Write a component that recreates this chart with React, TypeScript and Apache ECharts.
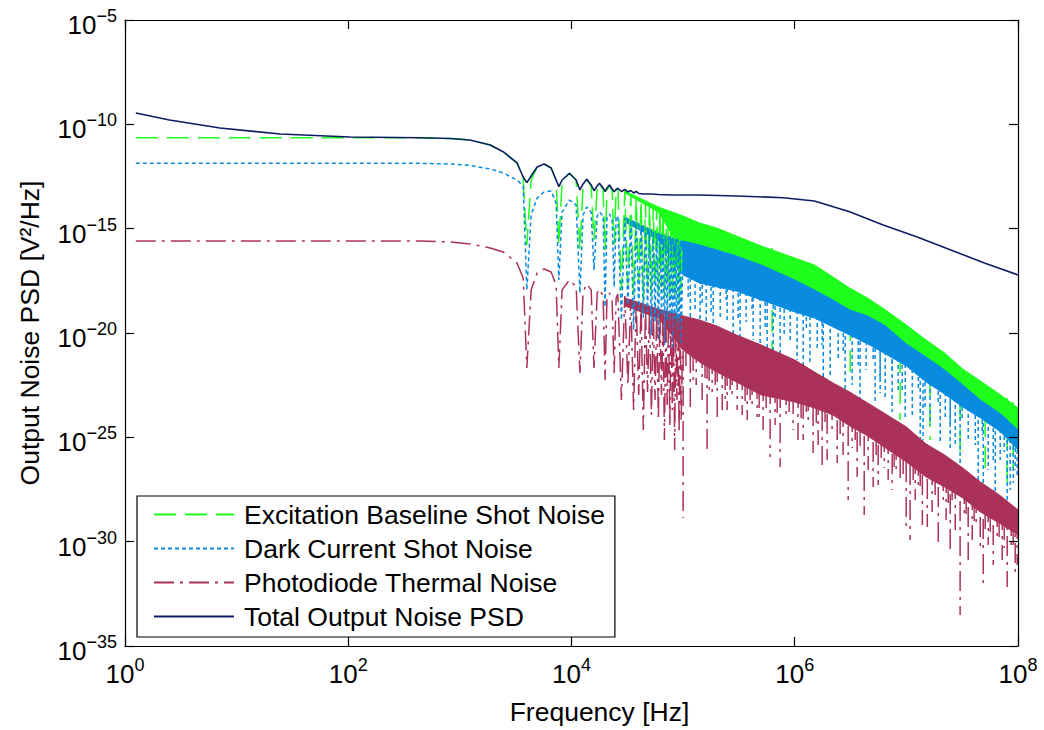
import React, { useEffect, useRef } from "react";
import * as echarts from "echarts";

// ---------- axis ticks ----------
const X_TICKS = [1, 1e2, 1e4, 1e6, 1e8];
const Y_TICKS = [1e-35, 1e-30, 1e-25, 1e-20, 1e-15, 1e-10, 1e-5];

// ---------- names ----------
const NAME_EXC = "Excitation Baseline Shot Noise";
const NAME_DARK = "Dark Current Shot Noise";
const NAME_THERM = "Photodiode Thermal Noise";
const NAME_TOTAL = "Total Output Noise PSD";

// ---------- low-frequency part (flat + distinct lobes), shared frequencies [Hz] ----------
const F_LOBE = [
  1.25, 2.5, 7.1, 24.5, 104, 440, 817, 1230, 1870, 2440, 3250, 3690, 3980, 4350, 4920, 5680, 6570, 7280, 7700,
  8240, 9580, 11000, 11900, 12700, 13700, 15000, 15900, 17000, 17800, 19200, 20000, 20800, 21900, 23100, 24100,
  25100, 26000, 28000, 30000, 32000, 34000, 36000, 38000, 40000, 42000, 44000, 46000, 48000, 50000, 52000, 54000,
  56000, 58000, 60000, 62000, 64000, 66000, 68000, 70000, 72000, 74000, 76000, 78000, 80000, 82000, 84000, 86000,
  88000, 90000, 92000, 94000, 96000, 100000,
];
const GREEN_LOBE = [
  2.29e-11, 2.29e-11, 2.29e-11, 2.29e-11, 2.29e-11, 2.27e-11, 2.1e-11, 1.78e-11, 1.02e-11, 4.89e-12, 1.41e-12,
  2.69e-13, 1.66e-16, 2.15e-13, 9.04e-13, 1.26e-12, 8.09e-13, 2.15e-13, 1.66e-16, 1.73e-13, 4.51e-13, 2.15e-13,
  9.53e-17, 1.24e-13, 2.33e-13, 1.11e-13, 2.87e-16, 8.91e-14, 1.5e-13, 7.15e-14, 9.53e-17, 7.15e-14, 1.24e-13,
  6.4e-14, 1.66e-16, 7.15e-14, 8.63e-14, 1.16e-18, 5.73e-14, 2.0e-18, 4.12e-14, 6.65e-19, 2.96e-14, 3.48e-18,
  2.12e-14, 3.84e-19, 1.7e-14, 1.44e-18, 1.37e-14, 5.96e-19, 1.22e-14, 2.5e-18, 9.82e-15, 9.27e-19, 8.79e-15,
  1.61e-18, 7.87e-15, 4.78e-19, 7.05e-15, 2.24e-18, 6.31e-15, 3.84e-19, 5.65e-15, 1.16e-18, 5.65e-15, 6.65e-19,
  5.06e-15, 1.79e-18, 4.53e-15, 3.84e-19, 4.06e-15, 1.16e-18, 3.64e-15,
];
const BLUE_LOBE = [
  1.36e-12, 1.36e-12, 1.36e-12, 1.36e-12, 1.36e-12, 1.35e-12, 1.26e-12, 1.07e-12, 7.25e-13, 4.67e-13, 2.15e-13,
  1.11e-13, 1.16e-18, 4.53e-15, 2.96e-14, 5.73e-14, 6.4e-14, 1.7e-14, 3.48e-18, 6.31e-15, 2.37e-14, 1.37e-14,
  8.3e-19, 4.53e-15, 1.1e-14, 6.31e-15, 1.05e-17, 4.06e-15, 6.31e-15, 4.06e-15, 1.77e-19, 3.26e-15, 5.06e-15,
  2.92e-15, 1.61e-18, 3.26e-15, 4.06e-15, 4.22e-20, 3.26e-15, 2.21e-19, 2.61e-15, 1.4e-20, 1.87e-15, 1.27e-19,
  1.35e-15, 5.26e-20, 1.08e-15, 1.02e-19, 8.66e-16, 8.07e-21, 7.76e-16, 3.39e-20, 6.22e-16, 4.65e-21, 5.57e-16,
  6.56e-20, 4.99e-16, 2.67e-21, 4.47e-16, 4.22e-20, 4.0e-16, 1.4e-20, 3.58e-16, 1.54e-21, 3.58e-16, 2.43e-20,
  3.21e-16, 4.65e-21, 2.87e-16, 1.4e-20, 2.57e-16, 2.67e-21, 2.31e-16,
];
const RED_LOBE = [
  2.57e-16, 2.57e-16, 2.57e-16, 2.57e-16, 2.57e-16, 2.57e-16, 2.31e-16, 1.85e-16, 1.19e-16, 7.65e-17, 2.27e-17,
  4.34e-18, 2.11e-22, 1.16e-18, 7.53e-18, 1.17e-17, 8.41e-18, 2.0e-18, 2.11e-22, 1.16e-18, 3.48e-18, 1.61e-18,
  1.22e-22, 9.27e-19, 2.24e-18, 1.16e-18, 2.11e-22, 8.3e-19, 1.29e-18, 5.96e-19, 5.62e-23, 5.33e-19, 8.3e-19,
  3.84e-19, 1.22e-22, 4.78e-19, 7.43e-19, 6.19e-24, 5.96e-19, 3.24e-23, 4.28e-19, 2.06e-24, 3.07e-19, 1.08e-23,
  2.21e-19, 2.26e-25, 1.77e-19, 1.5e-23, 1.42e-19, 1.18e-24, 1.27e-19, 6.19e-24, 1.02e-19, 6.82e-25, 9.14e-20,
  1.08e-23, 8.18e-20, 7.5e-26, 7.33e-20, 3.57e-24, 6.56e-20, 3.93e-25, 5.87e-20, 2.06e-24, 5.87e-20, 2.49e-26,
  5.26e-20, 6.19e-24, 4.71e-20, 1.63e-25, 4.22e-20, 6.82e-25, 3.78e-20,
];

// ---------- total output noise ----------
const F_TOTAL = [
  1.25, 2.5, 7.1, 24.5, 104, 440, 817, 1230, 1870, 2440, 3250, 3690, 3980, 4350, 4920, 5680, 6570, 7280, 7700,
  8240, 9580, 11000, 11900, 12700, 13700, 15000, 15900, 17000, 17800, 19200, 20000, 20800, 21900, 23100, 24100,
  25100, 26000, 28000, 30000, 32000, 34000, 36000, 38000, 40000, 44000, 48000, 52000, 60000, 80000, 1.4e5, 3e5,
  7.9e5, 1.5e6, 3.1e6, 6.2e6, 1.25e7, 2.5e7, 5e7, 1e8,
];
const TOTAL = [
  3.5e-10, 1.61e-10, 6.68e-11, 3.45e-11, 2.48e-11, 2.29e-11, 2.1e-11, 1.78e-11, 1.02e-11, 4.89e-12, 1.41e-12,
  3.0e-13, 1.6e-13, 3.35e-13, 9.04e-13, 1.26e-12, 8.09e-13, 2.15e-13, 1.03e-13, 2.15e-13, 4.51e-13, 2.15e-13,
  7.15e-14, 1.39e-13, 2.33e-13, 1.24e-13, 6.62e-14, 1.11e-13, 1.5e-13, 8.91e-14, 5.93e-14, 8.91e-14, 1.24e-13,
  7.98e-14, 5.93e-14, 7.55e-14, 8.63e-14, 6.05e-14, 7.55e-14, 5.73e-14, 6.76e-14, 5.14e-14, 6.05e-14, 4.86e-14,
  4.6e-14, 4.6e-14, 4.6e-14, 4.35e-14, 4.12e-14, 4.12e-14, 3.69e-14, 3.05e-14, 2.12e-14, 6.53e-15, 1.5e-15,
  4.0e-16, 9.53e-17, 2.27e-17, 6.04e-18,
];

// ---------- dense high-frequency region: envelope of the solid bands ----------
const F_BAND = [
  3e4, 6e4, 1e5, 1.4e5, 2e5, 3e5, 5e5, 1e6, 1.5e6, 2.2e6, 3.1e6, 4.5e6, 6.5e6, 1e7, 1.5e7, 2.2e7, 3.2e7, 4.6e7, 7e7,
  1e8,
];
const GREEN_BAND_TOP = [
  6.4e-14, 1.1e-14, 4.06e-15, 1.87e-15, 1.08e-15, 4.47e-16, 1.48e-16, 3.94e-17, 1.82e-17, 4.85e-18, 1.44e-18,
  4.78e-19, 1.27e-19, 2.43e-20, 4.65e-21, 1.11e-21, 1.89e-22, 5.04e-23, 1.08e-23, 2.56e-24,
];
const GREEN_BAND_BOTTOM = [
  5.14e-14, 6.31e-15, 6.85e-17, 4.41e-17, 2.54e-17, 1.31e-17, 4.85e-18, 9.27e-19, 3.07e-19, 1.02e-19, 3.39e-20,
  1.75e-20, 5.8e-21, 7.94e-22, 1.89e-22, 4.51e-23, 8.63e-24, 1.65e-24, 3.52e-25, 6.03e-26,
];
const BLUE_BAND_TOP = [
  3.64e-15, 6.22e-16, 2.57e-16, 1.66e-16, 9.53e-17, 4.92e-17, 1.82e-17, 3.48e-18, 1.16e-18, 3.84e-19, 1.27e-19,
  6.56e-20, 2.18e-20, 2.99e-21, 7.12e-22, 1.7e-22, 3.24e-23, 6.19e-24, 1.32e-24, 2.26e-25,
];
const BLUE_BAND_BOTTOM = [
  2.09e-15, 2.87e-16, 6.04e-18, 2.5e-18, 1.61e-18, 1.03e-18, 3.84e-19, 1.02e-19, 5.26e-20, 1.95e-20, 8.07e-21,
  2.99e-21, 9.91e-22, 2.64e-22, 4.51e-23, 1.2e-23, 2.86e-24, 8.51e-25, 1.82e-25, 2.49e-26,
];
const RED_BAND_TOP = [
  4.78e-19, 1.42e-19, 6.56e-20, 4.22e-20, 2.18e-20, 8.07e-21, 2.67e-21, 5.11e-22, 1.36e-22, 4.04e-23, 1.5e-23,
  4.45e-24, 1.32e-24, 3.15e-25, 4.83e-26, 1.44e-26, 3.42e-27, 7.3e-28, 1.56e-28, 3.32e-29,
];
const RED_BAND_BOTTOM = [
  1.98e-19, 5.26e-20, 1.54e-21, 4.1e-22, 1.36e-22, 4.51e-23, 1.08e-23, 4.97e-24, 2.56e-24, 1.18e-24, 3.52e-25,
  1.17e-25, 3.1e-26, 6.62e-27, 1.27e-27, 4.2e-28, 1.25e-28, 2.66e-29, 7.08e-30, 2.11e-30,
];

// ---------- deep notches (spikes) below the bands: frequency, upper end, lower end ----------
const GREEN_SPIKE_F = [6.27e5, 3.14e6, 8.8e6, 1.63e7, 3.03e7, 5.08e7, 8.0e7, 9.06e7];
const GREEN_SPIKE_TOP = [1.19e-16, 1.44e-18, 4.22e-20, 3.34e-21, 2.36e-22, 3.62e-23, 7.73e-24, 4.97e-24];
const GREEN_SPIKE_BOTTOM = [8.87e-22, 5.62e-23, 6.82e-25, 7.5e-26, 8.26e-27, 2.74e-27, 3.02e-28, 2.74e-27];

const BLUE_SPIKE_F = [
  1.16e5, 1.42e5, 1.86e5, 2.48e5, 3.24e5, 4.24e5, 5.66e5, 6.41e5, 7.4e5, 1.19e6, 1.37e6, 1.8e6, 2.83e6, 3.85e6,
  5.25e6, 5.82e6, 7.46e6, 9.76e6, 1.33e7, 1.41e7, 2.01e7, 2.47e7, 3.03e7, 4.4e7, 4.88e7, 6.25e7, 8.0e7, 9.06e7, 9.83e7,
  1.28e5, 1.61e5, 2.15e5, 2.81e5, 3.67e5, 4.9e5, 9.1e5, 1.05e6, 1.59e6, 2.08e6, 2.45e6, 3.27e6, 4.36e6, 6.46e6,
  8.44e6, 1.13e7, 1.63e7, 2.23e7, 2.74e7, 3.58e7, 5.41e7, 6.93e7, 8.51e7,
  1.11e5, 1.48e5, 1.78e5, 2.43e5, 3.11e5, 4.15e5, 5.43e5, 6.67e5, 8.04e5, 1.27e6, 1.76e6, 2.72e6, 3.7e6, 5.04e6,
  5.82e6, 7.46e6, 9.17e6, 1.28e7, 1.47e7, 1.93e7, 2.47e7, 3.16e7, 4.14e7, 4.78e7, 6.0e7, 7.52e7, 9.44e7,
];
const BLUE_SPIKE_TOP = [
  2.06e-16, 1.66e-16, 1.06e-16, 6.85e-17, 4.41e-17, 2.54e-17, 1.46e-17, 1.05e-17, 7.53e-18, 2.0e-18, 1.44e-18,
  5.96e-19, 1.58e-19, 9.14e-20, 4.22e-20, 3.39e-20, 1.12e-20, 3.34e-21, 1.11e-21, 8.87e-22, 2.36e-22, 1.09e-22,
  4.51e-23, 6.92e-24, 4.97e-24, 2.06e-24, 7.62e-25, 3.93e-25, 2.53e-25,
  1.05e-17, 6.04e-18, 4.34e-18, 3.12e-18, 2.0e-18, 1.16e-18, 3.44e-19, 2.75e-19, 1.42e-19, 7.33e-20, 4.71e-20,
  1.95e-20, 9.0e-21, 2.99e-21, 1.38e-21, 4.1e-22, 9.77e-23, 3.24e-23, 1.67e-23, 6.19e-24, 1.48e-24, 5.47e-25, 1.82e-25,
  8.41e-18, 4.34e-18, 3.48e-18, 2.5e-18, 1.79e-18, 1.03e-18, 6.65e-19, 4.28e-19, 3.07e-19, 1.27e-19, 7.33e-20,
  2.18e-20, 9.0e-21, 4.16e-21, 2.39e-21, 1.24e-21, 6.37e-22, 1.7e-22, 9.77e-23, 3.62e-23, 1.5e-23, 6.19e-24,
  2.56e-24, 1.48e-24, 6.11e-25, 2.53e-25, 6.72e-26,
];
const BLUE_SPIKE_BOTTOM = [
  1.4e-20, 1.4e-20, 6.47e-21, 3.03e-20, 3.34e-21, 4.65e-21, 1.54e-21, 7.12e-22, 1.11e-21, 1.7e-22, 3.67e-22,
  5.62e-23, 1.34e-23, 2.86e-24, 4.45e-24, 1.34e-23, 1.65e-24, 6.82e-25, 7.5e-26, 7.5e-26, 5.39e-26, 2.49e-26,
  2.74e-27, 9.1e-28, 6.53e-28, 2.17e-28, 7.19e-29, 6.53e-28, 1.27e-27,
  1.27e-19, 2.43e-20, 5.26e-20, 8.07e-21, 3.39e-20, 2.67e-21, 4.65e-21, 5.11e-22, 1.54e-21, 9.77e-23, 5.11e-22,
  3.24e-23, 1.7e-22, 6.19e-24, 1.87e-23, 1.18e-24, 3.93e-25, 6.82e-25, 4.32e-26, 7.5e-26, 2.74e-27, 8.26e-27, 3.02e-28,
  3.84e-19, 2.21e-19, 7.33e-20, 3.84e-19, 4.22e-20, 1.27e-19, 1.4e-20, 5.26e-20, 8.07e-21, 1.4e-20, 2.67e-21,
  1.24e-21, 2.95e-22, 4.1e-22, 5.62e-23, 1.36e-22, 1.5e-23, 1.87e-23, 2.06e-24, 3.57e-24, 3.93e-25, 6.82e-25,
  4.32e-26, 1.3e-25, 8.26e-27, 2.0e-26, 2.74e-27,
];

const RED_SPIKE_F = [
  1.0e5, 1.16e5, 1.64e5, 2.02e5, 2.48e5, 3.05e5, 3.75e5, 4.6e5, 5.21e5, 6.02e5, 7.4e5, 9.67e5, 1.19e6, 1.46e6,
  1.76e6, 1.95e6, 2.4e6, 3.01e6, 3.62e6, 4.19e6, 5.04e6, 5.59e6, 7.46e6, 8.8e6, 9.96e6, 1.08e7, 1.39e7, 1.54e7,
  1.93e7, 2.47e7, 3.03e7, 3.58e7, 4.59e7, 4.88e7, 6.0e7, 8.0e7, 9.44e7,
  1.31e5, 1.48e5, 1.82e5, 2.24e5, 2.75e5, 3.38e5, 4.15e5, 6.67e5, 8.37e5, 1.07e6, 1.32e6, 1.62e6, 2.16e6, 2.71e6,
  3.27e6, 4.55e6, 6.33e6, 6.87e6, 8.1e6, 1.2e7, 1.28e7, 1.7e7, 2.14e7, 2.27e7, 2.74e7, 3.3e7, 3.89e7, 4.22e7,
  5.41e7, 6.51e7, 7.22e7, 8.69e7, 9.83e7,
  1.06e5, 1.23e5, 1.57e5, 1.71e5, 1.94e5, 2.38e5, 2.64e5, 3.59e5, 3.98e5, 4.8e5, 5.54e5, 6.96e5, 8.91e5, 1.14e6,
  1.27e6, 1.56e6, 1.87e6, 2.55e6, 3.48e6, 3.85e6, 5.36e6, 5.95e6, 7.77e6, 9.36e6, 1.15e7, 1.33e7, 1.81e7, 2.37e7,
  2.57e7, 3.43e7, 4.05e7, 5.08e7, 5.64e7, 6.78e7, 7.52e7, 9.06e7,
];
const RED_SPIKE_TOP = [
  6.56e-20, 5.26e-20, 2.71e-20, 1.95e-20, 1.25e-20, 8.07e-21, 4.65e-21, 2.99e-21, 2.39e-21, 1.72e-21, 1.11e-21,
  5.71e-22, 3.29e-22, 1.52e-22, 8.75e-23, 6.29e-23, 3.24e-23, 1.67e-23, 8.63e-24, 5.55e-24, 2.86e-24, 2.06e-24,
  7.62e-25, 4.9e-25, 3.15e-25, 2.26e-25, 7.5e-26, 4.83e-26, 2.0e-26, 9.23e-27, 4.26e-27, 2.2e-27, 7.3e-28,
  5.85e-28, 3.02e-28, 8.95e-29, 4.14e-29,
  3.34e-21, 1.92e-21, 9.91e-22, 5.71e-22, 2.95e-22, 1.7e-22, 9.77e-23, 4.04e-23, 3.24e-23, 2.33e-23, 1.67e-23,
  1.08e-23, 6.19e-24, 2.86e-24, 1.65e-24, 6.11e-25, 1.82e-25, 1.46e-25, 7.5e-26, 1.6e-26, 1.29e-26, 4.76e-27,
  2.45e-27, 1.97e-27, 1.02e-27, 5.85e-28, 3.02e-28, 2.17e-28, 8.02e-29, 4.62e-29, 3.32e-29, 1.71e-29, 1.23e-29,
  2.39e-21, 1.38e-21, 5.71e-22, 4.58e-22, 2.95e-22, 1.7e-22, 1.22e-22, 5.04e-23, 4.04e-23, 2.33e-23, 1.87e-23,
  1.34e-23, 1.2e-23, 7.73e-24, 6.92e-24, 4.45e-24, 3.2e-24, 1.32e-24, 4.9e-25, 3.52e-25, 1.3e-25, 8.38e-26,
  3.47e-26, 1.6e-26, 7.4e-27, 4.26e-27, 1.41e-27, 6.53e-28, 4.69e-28, 1.94e-28, 8.95e-29, 3.71e-29, 2.66e-29,
  1.53e-29, 1.1e-29, 5.69e-30,
];
const RED_SPIKE_BOTTOM = [
  1.37e-29, 2.86e-24, 2.49e-26, 4.9e-25, 2.06e-24, 2.06e-24, 6.82e-25, 9.5e-25, 2.26e-25, 1.15e-26, 3.82e-27,
  2.26e-25, 7.5e-26, 1.79e-26, 4.76e-27, 8.26e-27, 5.93e-27, 1.0e-28, 1.27e-27, 1.91e-29, 4.2e-28, 5.24e-28,
  3.02e-28, 9.1e-28, 3.66e-30, 1.21e-30, 6.34e-30, 5.09e-30, 9.73e-31, 2.89e-31, 3.09e-34, 1.34e-31, 4.03e-31,
  6.08e-33, 7.69e-32, 6.79e-33, 2.05e-32,
  3.24e-23, 6.19e-24, 1.5e-23, 2.06e-24, 7.73e-24, 1.18e-24, 3.57e-24, 3.93e-25, 8.51e-25, 7.5e-26, 3.93e-25,
  4.32e-26, 1.82e-25, 1.44e-26, 3.1e-26, 2.74e-27, 3.42e-27, 9.1e-28, 1.58e-27, 1.0e-28, 3.02e-28, 2.66e-29,
  5.77e-29, 1.1e-29, 3.66e-30, 1.91e-29, 1.21e-30, 6.34e-30, 6.98e-31, 1.21e-30, 1.34e-31, 4.03e-31, 7.69e-32,
  1.7e-22, 5.62e-23, 7.02e-23, 1.08e-23, 3.24e-23, 4.97e-24, 1.87e-23, 3.57e-24, 6.19e-24, 6.82e-25, 2.56e-24,
  1.18e-24, 1.65e-24, 6.82e-25, 1.65e-24, 2.82e-25, 5.47e-25, 1.3e-25, 7.5e-26, 2.0e-26, 1.44e-26, 1.03e-26,
  2.74e-27, 1.13e-27, 9.1e-28, 3.02e-28, 1.74e-28, 5.77e-29, 1.0e-28, 1.1e-29, 8.83e-30, 3.66e-30, 2.11e-30,
  1.21e-30, 5.02e-31, 6.98e-31,
];

// ---------- styles ----------
const FONT = '"Liberation Sans", Arial, Helvetica, sans-serif';
const C_GREEN = "#1eff1e";
const C_BLUE = "#098ce0";
const C_RED = "#aa3259";
const C_NAVY = "#0b1e64";
const DASH_GREEN = [22, 9];
const DASH_BLUE = [4, 3];
const DASH_RED = [20, 6, 3, 6];

const pairs = (xs: number[], ys: number[]) => xs.map((x, i) => [x, ys[i]]);
const triples = (xs: number[], a: number[], b: number[]) => xs.map((x, i) => [x, a[i], b[i]]);

function bandSeries(name: string, data: number[][], color: string) {
  return {
    type: "custom",
    name,
    silent: true,
    clip: true,
    data,
    encode: { x: 0, y: [1, 2] },
    renderItem: (params: any, api: any) => {
      if (params.dataIndex !== 0) return null;
      const pts: number[][] = [];
      for (let i = 0; i < data.length; i++) pts.push(api.coord([data[i][0], data[i][1]]));
      for (let i = data.length - 1; i >= 0; i--) pts.push(api.coord([data[i][0], data[i][2]]));
      return {
        type: "polygon",
        shape: { points: pts },
        style: { fill: color, stroke: color, lineWidth: 1 },
      };
    },
  };
}

function spikeSeries(name: string, data: number[][], color: string, dash: number[], width: number) {
  return {
    type: "custom",
    name,
    silent: true,
    clip: true,
    data,
    encode: { x: 0, y: [1, 2] },
    renderItem: (params: any, api: any) => {
      const a = api.coord([api.value(0), api.value(1)]);
      const b = api.coord([api.value(0), api.value(2)]);
      return {
        type: "line",
        shape: { x1: a[0], y1: a[1], x2: b[0], y2: b[1] },
        style: { stroke: color, lineWidth: width, lineDash: dash, fill: null },
      };
    },
  };
}

function lineSeries(name: string, data: number[][], color: string, dash: any, width = 1.5) {
  return {
    type: "line",
    name,
    data,
    symbol: "none",
    showSymbol: false,
    silent: true,
    clip: true,
    lineStyle: { color, width, type: dash },
    itemStyle: { color },
  };
}

const powLabel = (v: number) => {
  const e = Math.round(Math.log10(v));
  const s = e < 0 ? "\u2212" + String(-e) : String(e);
  return `{b|10}{s|${s}}`;
};
const labelRich = {
  b: { fontSize: 26, lineHeight: 26, fontFamily: FONT, color: "#000", padding: [10, 0, 0, 0] },
  s: { fontSize: 18, lineHeight: 18, fontFamily: FONT, color: "#000", verticalAlign: "top" },
};

export default function App() {
  const ref = useRef<HTMLDivElement>(null);
  useEffect(() => {
    if (!ref.current) return;
    const chart = echarts.init(ref.current, undefined, { renderer: "svg" });

    const axisLineStyle = { show: true, onZero: false, lineStyle: { color: "#000", width: 1.2 } };
    const xCommon = {
      type: "log",
      logBase: 10,
      min: 1,
      max: 1e8,
      z: 6,
      splitLine: { show: false },
      minorTick: { show: false },
      axisLine: axisLineStyle,
      axisTick: { show: true, inside: true, length: 9, lineStyle: { color: "#000", width: 1.2 }, customValues: X_TICKS },
    };
    const yCommon = {
      type: "log",
      logBase: 10,
      min: 1e-35,
      max: 1e-5,
      z: 6,
      splitLine: { show: false },
      minorTick: { show: false },
      axisLine: axisLineStyle,
      axisTick: { show: true, inside: true, length: 9, lineStyle: { color: "#000", width: 1.2 }, customValues: Y_TICKS },
    };

    const option: any = {
      animation: false,
      backgroundColor: "#fff",
      textStyle: { fontFamily: FONT },
      grid: { left: 125, right: 26, top: 20, bottom: 84, containLabel: false, outerBoundsMode: "none" },
      legend: {
        data: [NAME_EXC, NAME_DARK, NAME_THERM, NAME_TOTAL],
        orient: "vertical",
        left: 137,
        top: 496,
        itemWidth: 80,
        itemHeight: 12,
        itemGap: 7,
        padding: [5, 10, 7, 16],
        borderColor: "#000",
        borderWidth: 1.2,
        backgroundColor: "#fff",
        selectedMode: false,
        itemStyle: { opacity: 0 },
        textStyle: { fontSize: 26.5, color: "#000", fontFamily: FONT, padding: [0, 0, 0, 5] },
        z: 10,
      },
      xAxis: [
        {
          ...xCommon,
          position: "bottom",
          axisLabel: { customValues: X_TICKS, formatter: powLabel, rich: labelRich, margin: 10 },
          name: "Frequency [Hz]",
          nameLocation: "middle",
          nameGap: 52,
          nameTextStyle: { fontSize: 26.5, color: "#000", fontFamily: FONT, padding: [0, 0, 0, 56] },
        },
        { ...xCommon, position: "top", axisLabel: { show: false } },
      ],
      yAxis: [
        {
          ...yCommon,
          position: "left",
          axisLabel: { customValues: Y_TICKS, formatter: powLabel, rich: labelRich, margin: 8 },
          name: "Output Noise PSD [V\u00b2/Hz]",
          nameLocation: "middle",
          nameRotate: 90,
          nameGap: 82,
          nameTextStyle: { fontSize: 26.5, color: "#000", fontFamily: FONT },
        },
        { ...yCommon, position: "right", axisLabel: { show: false } },
      ],
      series: [
        bandSeries("exc-band", triples(F_BAND, GREEN_BAND_TOP, GREEN_BAND_BOTTOM), C_GREEN),
        spikeSeries("exc-notches", triples(GREEN_SPIKE_F, GREEN_SPIKE_TOP, GREEN_SPIKE_BOTTOM), C_GREEN, DASH_GREEN, 1.5),
        lineSeries(NAME_EXC, pairs(F_LOBE, GREEN_LOBE), C_GREEN, DASH_GREEN),
        bandSeries("dark-band", triples(F_BAND, BLUE_BAND_TOP, BLUE_BAND_BOTTOM), C_BLUE),
        spikeSeries("dark-notches", triples(BLUE_SPIKE_F, BLUE_SPIKE_TOP, BLUE_SPIKE_BOTTOM), C_BLUE, DASH_BLUE, 1.5),
        lineSeries(NAME_DARK, pairs(F_LOBE, BLUE_LOBE), C_BLUE, DASH_BLUE),
        bandSeries("therm-band", triples(F_BAND, RED_BAND_TOP, RED_BAND_BOTTOM), C_RED),
        spikeSeries("therm-notches", triples(RED_SPIKE_F, RED_SPIKE_TOP, RED_SPIKE_BOTTOM), C_RED, DASH_RED, 1.5),
        lineSeries(NAME_THERM, pairs(F_LOBE, RED_LOBE), C_RED, DASH_RED),
        lineSeries(NAME_TOTAL, pairs(F_TOTAL, TOTAL), C_NAVY, "solid", 1.6),
      ],
    };
    chart.setOption(option);
    return () => chart.dispose();
  }, []);

  return (
    <div
      ref={ref}
      style={{ position: "fixed", left: 0, top: 0, width: 1044, height: 730, background: "#fff" }}
    />
  );
}
